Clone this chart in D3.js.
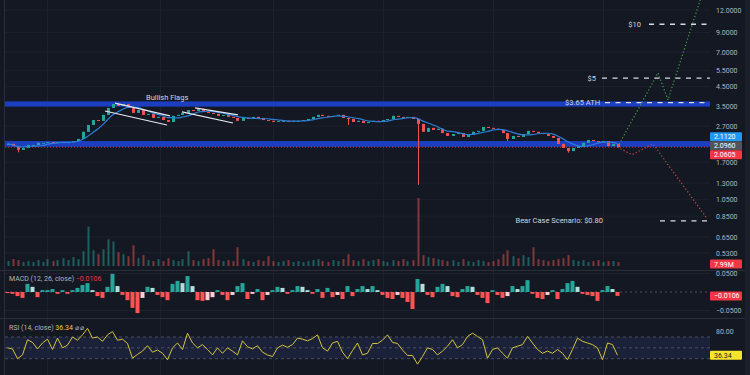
<!DOCTYPE html>
<html>
<head>
<meta charset="utf-8">
<script src="https://cdn.jsdelivr.net/npm/d3@7"></script>
<style>
  html, body { margin: 0; padding: 0; background: #141823; }
  svg { display: block; font-family: Roboto, "Liberation Sans", sans-serif; }
</style>
</head>
<body>
<svg id="chart" width="750" height="375"></svg>
<script>
var closes = [
  2.15, 2.09, 1.99, 2.04, 2.12, 2.12, 2.18, 2.18, 2.20, 2.18,
  2.20, 2.20, 2.20, 2.23, 2.29, 2.51, 2.74, 2.92, 2.89, 3.12,
  3.41, 3.59, 3.50, 3.59, 3.41, 3.20, 3.32, 3.12, 3.16, 3.00,
  3.04, 2.92, 2.85, 3.08, 3.12, 3.20, 3.32, 3.28, 3.37, 3.24,
  3.20, 3.16, 3.08, 3.12, 3.04, 3.00, 2.89, 3.00, 2.96, 3.04,
  3.00, 2.92, 2.89, 2.85, 2.89, 2.89, 2.85, 2.89, 2.89, 2.92,
  2.96, 3.04, 3.12, 3.08, 3.04, 3.08, 3.12, 3.00, 2.96, 2.85,
  2.89, 2.81, 2.85, 2.89, 2.85, 2.92, 2.96, 3.08, 3.04, 3.00,
  3.04, 2.96, 2.78, 2.51, 2.64, 2.57, 2.61, 2.47, 2.38, 2.44,
  2.47, 2.35, 2.41, 2.51, 2.54, 2.67, 2.64, 2.61, 2.57, 2.47,
  2.29, 2.38, 2.35, 2.44, 2.54, 2.51, 2.47, 2.44, 2.38, 2.32,
  2.15, 2.04, 1.96, 2.04, 2.09, 2.18, 2.26, 2.23, 2.20, 2.23,
  2.09, 2.15, 2.06
];
var firstOpen = 2.12;

// long wicks (bar index, low)
var wickLows = [
  { i: 2, low: 1.93 },
  { i: 82, low: 1.27 },
  { i: 68, low: 2.74 },
  { i: 100, low: 2.23 },
  { i: 112, low: 1.92 }
];

// volume in millions
var volumes = [
  10, 14, 12, 8, 10, 8, 12, 8, 14, 10,
  12, 16, 12, 18, 14, 30, 80, 32, 24, 34,
  54, 50, 28, 24, 20, 42, 16, 22, 12, 10,
  14, 10, 16, 12, 10, 14, 30, 12, 10, 14,
  16, 34, 12, 10, 12, 10, 38, 14, 10, 8,
  12, 10, 20, 10, 8, 10, 12, 8, 10, 8,
  10, 12, 14, 10, 8, 12, 10, 14, 24, 12,
  10, 14, 10, 12, 14, 10, 8, 12, 10, 14,
  10, 12, 138, 22, 18, 16, 14, 12, 10, 12,
  8, 14, 10, 8, 12, 10, 8, 10, 14, 24,
  32, 20, 16, 22, 18, 38, 14, 12, 10, 12,
  14, 16, 22, 12, 10, 12, 8, 10, 12, 8,
  10, 10, 7.99
];

// MACD (12, 26) histogram
var macdHist = [
  -0.003, -0.005, -0.011, -0.016, 0.022, 0.014, -0.014, 0.005, 0.005, 0.008,
  -0.005, 0.005, -0.005, 0.005, 0.011, 0.019, 0.024, 0.005, -0.011, -0.016,
  0.014, 0.049, 0.016, -0.008, -0.022, -0.043, -0.057, -0.016, 0.014, 0.011,
  -0.008, -0.014, -0.022, 0.022, 0.030, 0.024, 0.043, 0.016, -0.022, -0.024,
  -0.022, -0.014, 0.005, -0.008, -0.022, -0.008, 0.016, 0.024, -0.019, -0.005,
  0.008, -0.022, -0.008, 0.005, 0.014, 0.011, -0.005, 0.005, 0.016, 0.014,
  0.005, -0.005, 0.008, -0.016, 0.011, -0.014, -0.008, -0.019, 0.016, -0.011,
  0.008, 0.016, 0.008, 0.016, 0.005, -0.008, -0.016, -0.019, -0.008, -0.016,
  -0.027, -0.046, 0.035, 0.022, -0.008, -0.014, 0.014, 0.022, 0.016, -0.011,
  -0.014, 0.008, 0.016, 0.014, -0.008, -0.016, -0.030, 0.005, -0.008, -0.016,
  -0.011, 0.016, 0.008, 0.016, 0.032, -0.005, -0.016, -0.019, -0.008, 0.005,
  -0.019, 0.008, 0.024, 0.030, 0.014, -0.005, -0.008, -0.011, -0.024, 0.005,
  0.016, 0.008, -0.0106
];

// RSI (14)
var rsiValues = [
  50, 48, 30, 37, 65, 60, 48, 59, 66, 47,
  68, 50, 55, 70, 64, 74, 86, 68, 70, 62,
  74, 80, 64, 66, 58, 31, 38, 44, 54, 42,
  46, 40, 28, 50, 59, 47, 77, 59, 50, 56,
  47, 37, 50, 40, 50, 44, 37, 63, 52, 48,
  54, 42, 37, 34, 50, 55, 51, 56, 68, 66,
  63, 67, 74, 50, 44, 59, 62, 42, 30, 45,
  59, 37, 40, 58, 58, 64, 74, 60, 58, 46,
  36, 36, 20, 34, 50, 47, 37, 44, 53, 65,
  50, 56, 71, 77, 71, 65, 31, 47, 50, 40,
  31, 50, 53, 56, 71, 59, 47, 40, 44, 40,
  47, 40, 28, 47, 68, 62, 59, 56, 50, 28,
  59, 56, 36.34
];

var priceTicks = [12, 9, 7, 5.5, 4.5, 3.5, 2.7, 1.7, 1.3, 1.05, 0.85, 0.65, 0.53];
var macdTicks = [0.05, -0.05]; // 0.0000 sits under the value tag
var rsiTicks = [80];
var gridBars = [8, 30.5, 53, 75, 97, 119];

// drawn annotations, in (bar, price)
var supportBands = [[3.47, 3.71], [2.07, 2.23]];
var flagLines = [
  [[21.5, 3.63], [32.5, 3.08]],
  [[19.5, 3.28], [31.9, 2.74]],
  [[37.5, 3.41], [46.1, 3.12]],
  [[34.9, 3.24], [45.1, 2.81]]
];
var bullPath = [[122, 2.06], [130.1, 5.35], [132.1, 3.78], [139.7, 17.2]];
var bearPath = [[122, 2.06], [124.9, 1.87], [129.1, 2.15], [139.7, 0.84]];
var targetLabels = ["$10", "$5", "$3.65 ATH", "Bear Case Scenario: $0.80"];
var targetPrices = [10, 5, 3.65, 0.8];

var lastPrice = 2.0605;
var tagValues = [2.112, 2.096, 2.0605];

var svg = d3.select("#chart"),
  width = +svg.attr("width"),
  height = +svg.attr("height"),
  plotLeft = 5,
  plotRight = 710;

var x = d3.scaleLinear().domain([-0.5, 140.5]).range([plotLeft, plotRight]);
var yPrice = d3.scaleLog().domain([0.65, 12]).range([237, 10]);
var yVol = d3.scaleLinear().domain([0, 140]).range([266, 197]);
var yMacd = d3.scaleLinear().domain([-0.05, 0.05]).range([310.5, 273.5]);
var yRsi = d3.scaleLinear().domain([30, 70]).range([358.7, 337]);

var up = "#26a69a", down = "#ef5350";

svg.append("rect").attr("width", width).attr("height", height).attr("fill", "#141823");

svg.append("defs").append("clipPath").attr("id", "priceClip")
  .append("rect").attr("x", plotLeft).attr("y", 0)
  .attr("width", plotRight - plotLeft).attr("height", 269);

// grid
var grid = svg.append("g").attr("stroke", "#1d212c").attr("stroke-width", 1);
grid.selectAll(".v").data(gridBars).enter().append("line")
  .attr("x1", function (d) { return Math.round(x(d)) + 0.5; })
  .attr("x2", function (d) { return Math.round(x(d)) + 0.5; })
  .attr("y1", 0).attr("y2", height);
grid.selectAll(".hp").data(priceTicks).enter().append("line")
  .attr("x1", plotLeft).attr("x2", plotRight)
  .attr("y1", function (d) { return yPrice(d); }).attr("y2", function (d) { return yPrice(d); });
grid.selectAll(".hm").data(macdTicks).enter().append("line")
  .attr("x1", plotLeft).attr("x2", plotRight)
  .attr("y1", function (d) { return yMacd(d); }).attr("y2", function (d) { return yMacd(d); });

// pane separators
svg.append("g").attr("stroke", "#2a2e39").selectAll("line").data([270.5, 318.5]).enter()
  .append("line").attr("x1", 0).attr("x2", width)
  .attr("y1", function (d) { return d; }).attr("y2", function (d) { return d; });
svg.append("line").attr("x1", 4.5).attr("x2", 4.5).attr("y1", 0).attr("y2", height)
  .attr("stroke", "#2a2e39");
svg.append("rect").attr("x", 745).attr("y", 0).attr("width", 5).attr("height", height)
  .attr("fill", "#1b1f2a");

var pricePane = svg.append("g").attr("clip-path", "url(#priceClip)");

// support bands
pricePane.selectAll(".band").data(supportBands).enter().append("rect")
  .attr("x", plotLeft).attr("width", plotRight - plotLeft)
  .attr("y", function (d) { return yPrice(d[1]); })
  .attr("height", function (d) { return yPrice(d[0]) - yPrice(d[1]); })
  .attr("fill", "#1c3fc2");

// candle table
var candles = closes.map(function (c, i) {
  var o = i ? closes[i - 1] : firstOpen;
  var w = wickLows.find(function (d) { return d.i === i; });
  return {
    i: i, open: o, close: c,
    high: Math.max(o, c),
    low: w ? w.low : Math.min(o, c),
    vol: volumes[i]
  };
});
function col(d) { return d.close >= d.open ? up : down; }
function cx(d) { return Math.round(x(d.i)) + 0.5; }

// volume
pricePane.selectAll(".vol").data(candles).enter().append("rect")
  .attr("x", function (d) { return cx(d) - 1; })
  .attr("width", 2)
  .attr("y", function (d) { return yVol(d.vol); })
  .attr("height", function (d) { return yVol(0) - yVol(d.vol); })
  .attr("fill", col)
  .attr("opacity", 0.5);

// last price line
pricePane.append("line")
  .attr("x1", plotLeft).attr("x2", plotRight)
  .attr("y1", yPrice(lastPrice)).attr("y2", yPrice(lastPrice))
  .attr("stroke", "#f23645").attr("stroke-dasharray", "1,2").attr("opacity", 0.8);

// wicks + bodies
pricePane.selectAll(".wick").data(candles).enter().append("line")
  .attr("x1", cx).attr("x2", cx)
  .attr("y1", function (d) { return yPrice(d.high); })
  .attr("y2", function (d) { return yPrice(d.low); })
  .attr("stroke", col)
  .attr("stroke-width", 1);
pricePane.selectAll(".body").data(candles).enter().append("rect")
  .attr("x", function (d) { return cx(d) - 1.5; })
  .attr("width", 3)
  .attr("y", function (d) { return yPrice(Math.max(d.open, d.close)); })
  .attr("height", function (d) {
    return Math.max(1, Math.abs(yPrice(d.open) - yPrice(d.close)));
  })
  .attr("fill", col);

// moving average of the closes
var maLine = d3.line()
  .x(function (d) { return x(d.i); })
  .y(function (d) { return yPrice(d.v); })
  .curve(d3.curveMonotoneX);
var ma = closes.map(function (c, i) {
  return { i: i, v: d3.mean(closes.slice(Math.max(0, i - 5), i + 1)) };
});
pricePane.append("path").datum(ma)
  .attr("fill", "none").attr("stroke", "#2b7fd9").attr("stroke-width", 1.2)
  .attr("d", maLine);

// bullish flag channels
pricePane.selectAll(".flag").data(flagLines).enter().append("line")
  .attr("x1", function (d) { return x(d[0][0]); }).attr("y1", function (d) { return yPrice(d[0][1]); })
  .attr("x2", function (d) { return x(d[1][0]); }).attr("y2", function (d) { return yPrice(d[1][1]); })
  .attr("stroke", "#e6e8ee").attr("stroke-width", 1.2);
pricePane.append("text")
  .attr("x", x(27.7)).attr("y", yPrice(3.78))
  .attr("fill", "#d1d4dc").attr("font-size", 7.5)
  .text("Bullish Flags");

// scenario paths
var pathLine = d3.line()
  .x(function (d) { return x(d[0]); })
  .y(function (d) { return yPrice(d[1]); });
pricePane.append("path").datum(bullPath)
  .attr("fill", "none").attr("stroke", "#3fa34d").attr("stroke-width", 1.2)
  .attr("stroke-dasharray", "1.2,2.2").attr("d", pathLine);
pricePane.append("path").datum(bearPath)
  .attr("fill", "none").attr("stroke", "#d8414b").attr("stroke-width", 1.2)
  .attr("stroke-dasharray", "1.2,2.2").attr("d", pathLine);

// target levels
var targetLineStart = [128.3, 118.9, 119.5, 130.5];
var targetTextEnd = [126.7, 117.7, 118.5, 119.1];
targetPrices.forEach(function (p, k) {
  pricePane.append("line")
    .attr("x1", x(targetLineStart[k])).attr("x2", plotRight)
    .attr("y1", yPrice(p)).attr("y2", yPrice(p))
    .attr("stroke", "#d8dae0").attr("stroke-width", 1.4)
    .attr("stroke-dasharray", "5,5.5");
  pricePane.append("text")
    .attr("x", x(targetTextEnd[k])).attr("y", yPrice(p) + 2.5)
    .attr("text-anchor", "end")
    .attr("fill", "#d1d4dc").attr("font-size", 7.5)
    .text(targetLabels[k]);
});

// MACD pane
svg.append("line").attr("x1", plotLeft).attr("x2", plotRight)
  .attr("y1", yMacd(0)).attr("y2", yMacd(0))
  .attr("stroke", "#4a4f5e").attr("stroke-dasharray", "2,3");
svg.selectAll(".hist").data(macdHist).enter().append("rect")
  .attr("x", function (d, i) { return x(i) - 2; })
  .attr("width", 4)
  .attr("y", function (d) { return d >= 0 ? yMacd(d) : yMacd(0); })
  .attr("height", function (d) { return Math.abs(yMacd(d) - yMacd(0)); })
  .attr("fill", function (d, i) {
    var prev = i ? macdHist[i - 1] : 0;
    if (d >= 0) return d >= prev ? "#26a69a" : "#b2dfdb";
    return d <= prev ? "#ff5252" : "#ffcdd2";
  });

// RSI pane
svg.append("rect").attr("x", plotLeft).attr("width", plotRight - plotLeft)
  .attr("y", yRsi(70)).attr("height", yRsi(30) - yRsi(70))
  .attr("fill", "#1a2139");
svg.selectAll(".rsiLevel").data([70, 50, 30]).enter().append("line")
  .attr("x1", plotLeft).attr("x2", plotRight)
  .attr("y1", function (d) { return yRsi(d); }).attr("y2", function (d) { return yRsi(d); })
  .attr("stroke", "#4a4f5e").attr("stroke-dasharray", "3,3");
svg.append("path").datum(rsiValues)
  .attr("fill", "none").attr("stroke", "#d4c43c").attr("stroke-width", 1)
  .attr("d", d3.line()
    .x(function (d, i) { return x(i); })
    .y(function (d) { return yRsi(d); }));

// pane legends
var macdLegend = svg.append("text").attr("x", 9).attr("y", 280.5).attr("font-size", 7);
macdLegend.append("tspan").attr("fill", "#b2b5be").text("MACD (12, 26, close)  ");
macdLegend.append("tspan").attr("fill", "#f23645").text("\u22120.0106");
var rsiLegend = svg.append("text").attr("x", 9).attr("y", 329.5).attr("font-size", 7);
rsiLegend.append("tspan").attr("fill", "#b2b5be").text("RSI (14, close)  ");
rsiLegend.append("tspan").attr("fill", "#e3d434").text("36.34");
rsiLegend.append("tspan").attr("fill", "#b2b5be").text("  \u2300  \u2300");

// right axes
function rightAxis(scale, ticks, fmt) {
  var g = svg.append("g").attr("transform", "translate(714,0)")
    .call(d3.axisRight(scale).tickValues(ticks).tickSize(0).tickFormat(fmt));
  g.select(".domain").remove();
  g.selectAll("text").attr("fill", "#b2b5be").attr("font-size", 7)
    .attr("font-family", "Roboto, 'Liberation Sans', sans-serif").attr("x", 2);
  return g;
}
rightAxis(yPrice, priceTicks, d3.format(".4f"));
rightAxis(yMacd, macdTicks, function (d) { return d3.format(".4f")(d).replace("-", "\u2212"); });
rightAxis(yRsi, rsiTicks, d3.format(".2f"));

function tag(y, label, bg, fg) {
  var g = svg.append("g");
  g.append("rect").attr("x", 710).attr("y", y - 4.5).attr("width", 32).attr("height", 9)
    .attr("rx", 1).attr("fill", bg);
  g.append("text").attr("x", 714).attr("y", y + 2.5)
    .attr("fill", fg).attr("font-size", 7).text(label);
}
var tagColors = ["#2196f3", "#50545f", "#f23645"];
var midY = yPrice(tagValues[1]);
tagValues.forEach(function (v, k) {
  tag(midY + (k - 1) * 9, v.toFixed(4), tagColors[k], "#ffffff");
});
tag(264, "7.99M", "#f23645", "#ffffff");
tag(yMacd(-0.0106), "\u22120.0106", "#f23645", "#ffffff");
tag(yRsi(36.34), "36.34", "#f5e52c", "#131722");
</script>
</body>
</html>
